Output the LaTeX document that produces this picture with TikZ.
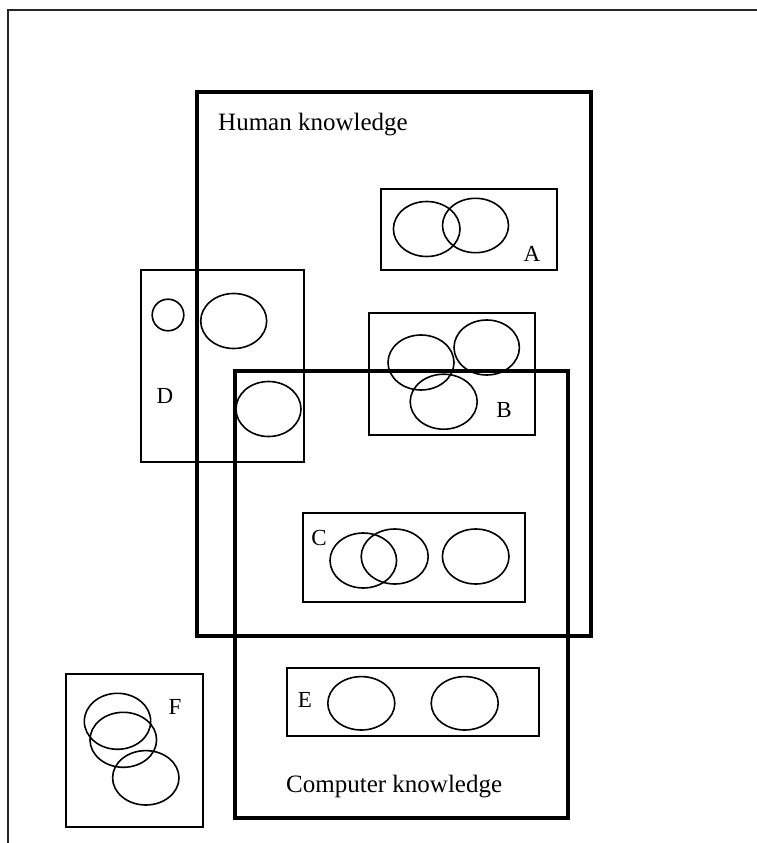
\documentclass[tikz,border=0pt]{standalone}
\usepackage{fontspec}
\setmainfont{Liberation Serif}
\begin{document}
\begin{tikzpicture}[x=1pt,y=-1pt,
  frame/.style={line width=1.4pt,black!85},
  bigbox/.style={line width=3.4pt},
  subbox/.style={line width=1.5pt},
  set/.style={line width=1.6pt},
  tag/.style={font=\fontsize{23}{26}\selectfont,inner sep=0pt},
  title/.style={font=\fontsize{25}{29}\selectfont,inner sep=0pt,anchor=base west}]
\useasboundingbox (0,0) rectangle (757,843);
% page frame (only top and left edges are visible)
\draw[frame] (757,10) -- (8,10) -- (8,843);

% the two knowledge domains
\draw[bigbox] (197,92) rectangle (591,636);
\draw[bigbox] (235,371) rectangle (568,818);
\node[title] (hk) at (218,130) {Human knowledge};
\node[title] (ck) at (286,792) {Computer knowledge};

% A
\draw[subbox] (381,189) rectangle (557,270);
\draw[set] (426.7,229) ellipse [x radius=33.3,y radius=27.5];
\draw[set] (475.5,225.5) ellipse [x radius=33,y radius=27.2];
\node[tag] (la) at (532,254) {A};

% B
\draw[subbox] (369,313) rectangle (535,435);
\draw[set] (421,362.5) ellipse [x radius=33,y radius=27.5];
\draw[set] (486.7,347.5) ellipse [x radius=32.7,y radius=27.5];
\draw[set] (443.7,401.7) ellipse [x radius=33.5,y radius=27.5];
\node[tag] (lb) at (504,410) {B};

% C
\draw[subbox] (303,513) rectangle (525,602);
\draw[set] (363.3,560.5) ellipse [x radius=33.3,y radius=27.5];
\draw[set] (394.7,556.5) ellipse [x radius=33.5,y radius=27.5];
\draw[set] (475.7,556.5) ellipse [x radius=33.3,y radius=27.5];
\node[tag] (lc) at (319,538) {C};

% D
\draw[subbox] (141,270) rectangle (304,462);
\draw[set] (168,315) circle [radius=15.8];
\draw[set] (233.7,321) ellipse [x radius=33,y radius=27.5];
\draw[set] (268.5,409) ellipse [x radius=32.5,y radius=27.5];
\node[tag] (ld) at (165,396) {D};

% E
\draw[subbox] (287,668) rectangle (539,736);
\draw[set] (361.3,703.3) ellipse [x radius=33.5,y radius=26.7];
\draw[set] (464.7,703.3) ellipse [x radius=33.5,y radius=26.7];
\node[tag] (le) at (305,700) {E};

% F
\draw[subbox] (66,674) rectangle (203,827);
\draw[set] (117.5,721.3) ellipse [x radius=33.2,y radius=28];
\draw[set] (123.3,739.8) ellipse [x radius=33.3,y radius=27.5];
\draw[set] (145.8,777.8) ellipse [x radius=33.2,y radius=27.2];
\node[tag] (lf) at (175,707) {F};
\end{tikzpicture}
\end{document}
